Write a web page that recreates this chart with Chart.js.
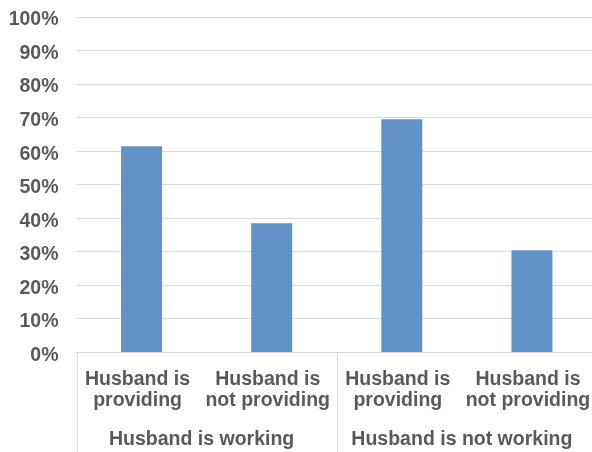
<!DOCTYPE html>
<html>
<head>
<meta charset="utf-8">
<script src="https://cdn.jsdelivr.net/npm/chart.js@4/dist/chart.umd.min.js"></script>
<style>
  html, body { margin: 0; padding: 0; background: #fff; overflow: hidden; }
  #wrap { width: 597px; height: 452px; }
</style>
</head>
<body>
<div id="wrap"><canvas id="chart" width="597" height="452"></canvas></div>
<script>
const categories = [
    ['Husband is', 'providing'],
    ['Husband is', 'not providing'],
    ['Husband is', 'providing'],
    ['Husband is', 'not providing']
];
const groups = ['Husband is working', 'Husband is not working'];
const shares = [61.5, 38.5, 69.5, 30.5];
const yTicks = [0, 10, 20, 30, 40, 50, 60, 70, 80, 90, 100];

const textColor = '#595959';
const lineColor = '#d9d9d9';
const labelFont = { family: 'Liberation Sans, Arial, sans-serif', size: 19.5, weight: 'bold', lineHeight: 1.11 };

// fixed box sizes so the plot area lands where it should
const fixBox = (w, h) => scale => {
    if (w !== null) scale.width = w;
    if (h !== null) scale.height = h;
    scale.paddingLeft = 0;
    scale.paddingRight = 0;
    scale.paddingTop = 0;
    scale.paddingBottom = 0;
};

// vertical separators under the axis: left edge and between the groups
const groupLines = {
    id: 'groupLines',
    afterDraw(chart) {
        const x = chart.scales.x;
        const step = x.getPixelForValue(1) - x.getPixelForValue(0);
        const perGroup = categories.length / groups.length;
        const ctx = chart.ctx;
        ctx.save();
        ctx.strokeStyle = lineColor;
        ctx.lineWidth = 1;
        for (let g = 0; g <= groups.length; g++) {
            const px = Math.round(x.getPixelForValue(g * perGroup) - step / 2) + 0.5;
            ctx.beginPath();
            ctx.moveTo(px, chart.chartArea.bottom);
            ctx.lineTo(px, chart.height);
            ctx.stroke();
        }
        ctx.restore();
    }
};

const ctx = document.getElementById('chart').getContext('2d');
new Chart(ctx, {
    type: 'bar',
    data: {
        labels: categories,
        datasets: [{
            data: shares,
            backgroundColor: '#6193c8',
            borderWidth: 0,
            categoryPercentage: 1,
            barPercentage: 0.315
        }]
    },
    options: {
        responsive: false,
        animation: false,
        layout: { padding: { top: 17, left: 8, right: 0, bottom: 0 } },
        plugins: {
            legend: { display: false },
            tooltip: { enabled: false }
        },
        scales: {
            x: {
                offset: true,
                grid: { display: false, drawTicks: false },
                border: { display: true, color: lineColor, width: 1 },
                ticks: {
                    color: textColor,
                    font: labelFont,
                    padding: 16,
                    labelOffset: -4,
                    maxRotation: 0,
                    autoSkip: false
                },
                afterFit: fixBox(null, 58)
            },
            x2: {
                type: 'category',
                position: 'bottom',
                labels: groups,
                offset: true,
                grid: { display: false, drawTicks: false },
                border: { display: false },
                ticks: {
                    color: textColor,
                    font: labelFont,
                    padding: 18.5,
                    labelOffset: -5,
                    maxRotation: 0
                },
                afterFit: fixBox(null, 41.5)
            },
            y: {
                min: 0,
                max: 100,
                afterBuildTicks(scale) {
                    scale.ticks = yTicks.map(v => ({ value: v }));
                },
                grid: { color: lineColor, lineWidth: 1, drawTicks: false },
                border: { display: false },
                ticks: {
                    color: textColor,
                    font: labelFont,
                    padding: 18,
                    labelOffset: 3,
                    callback: v => v + '%'
                },
                afterFit: fixBox(68.5, null)
            }
        }
    },
    plugins: [groupLines]
});
</script>
</body>
</html>
